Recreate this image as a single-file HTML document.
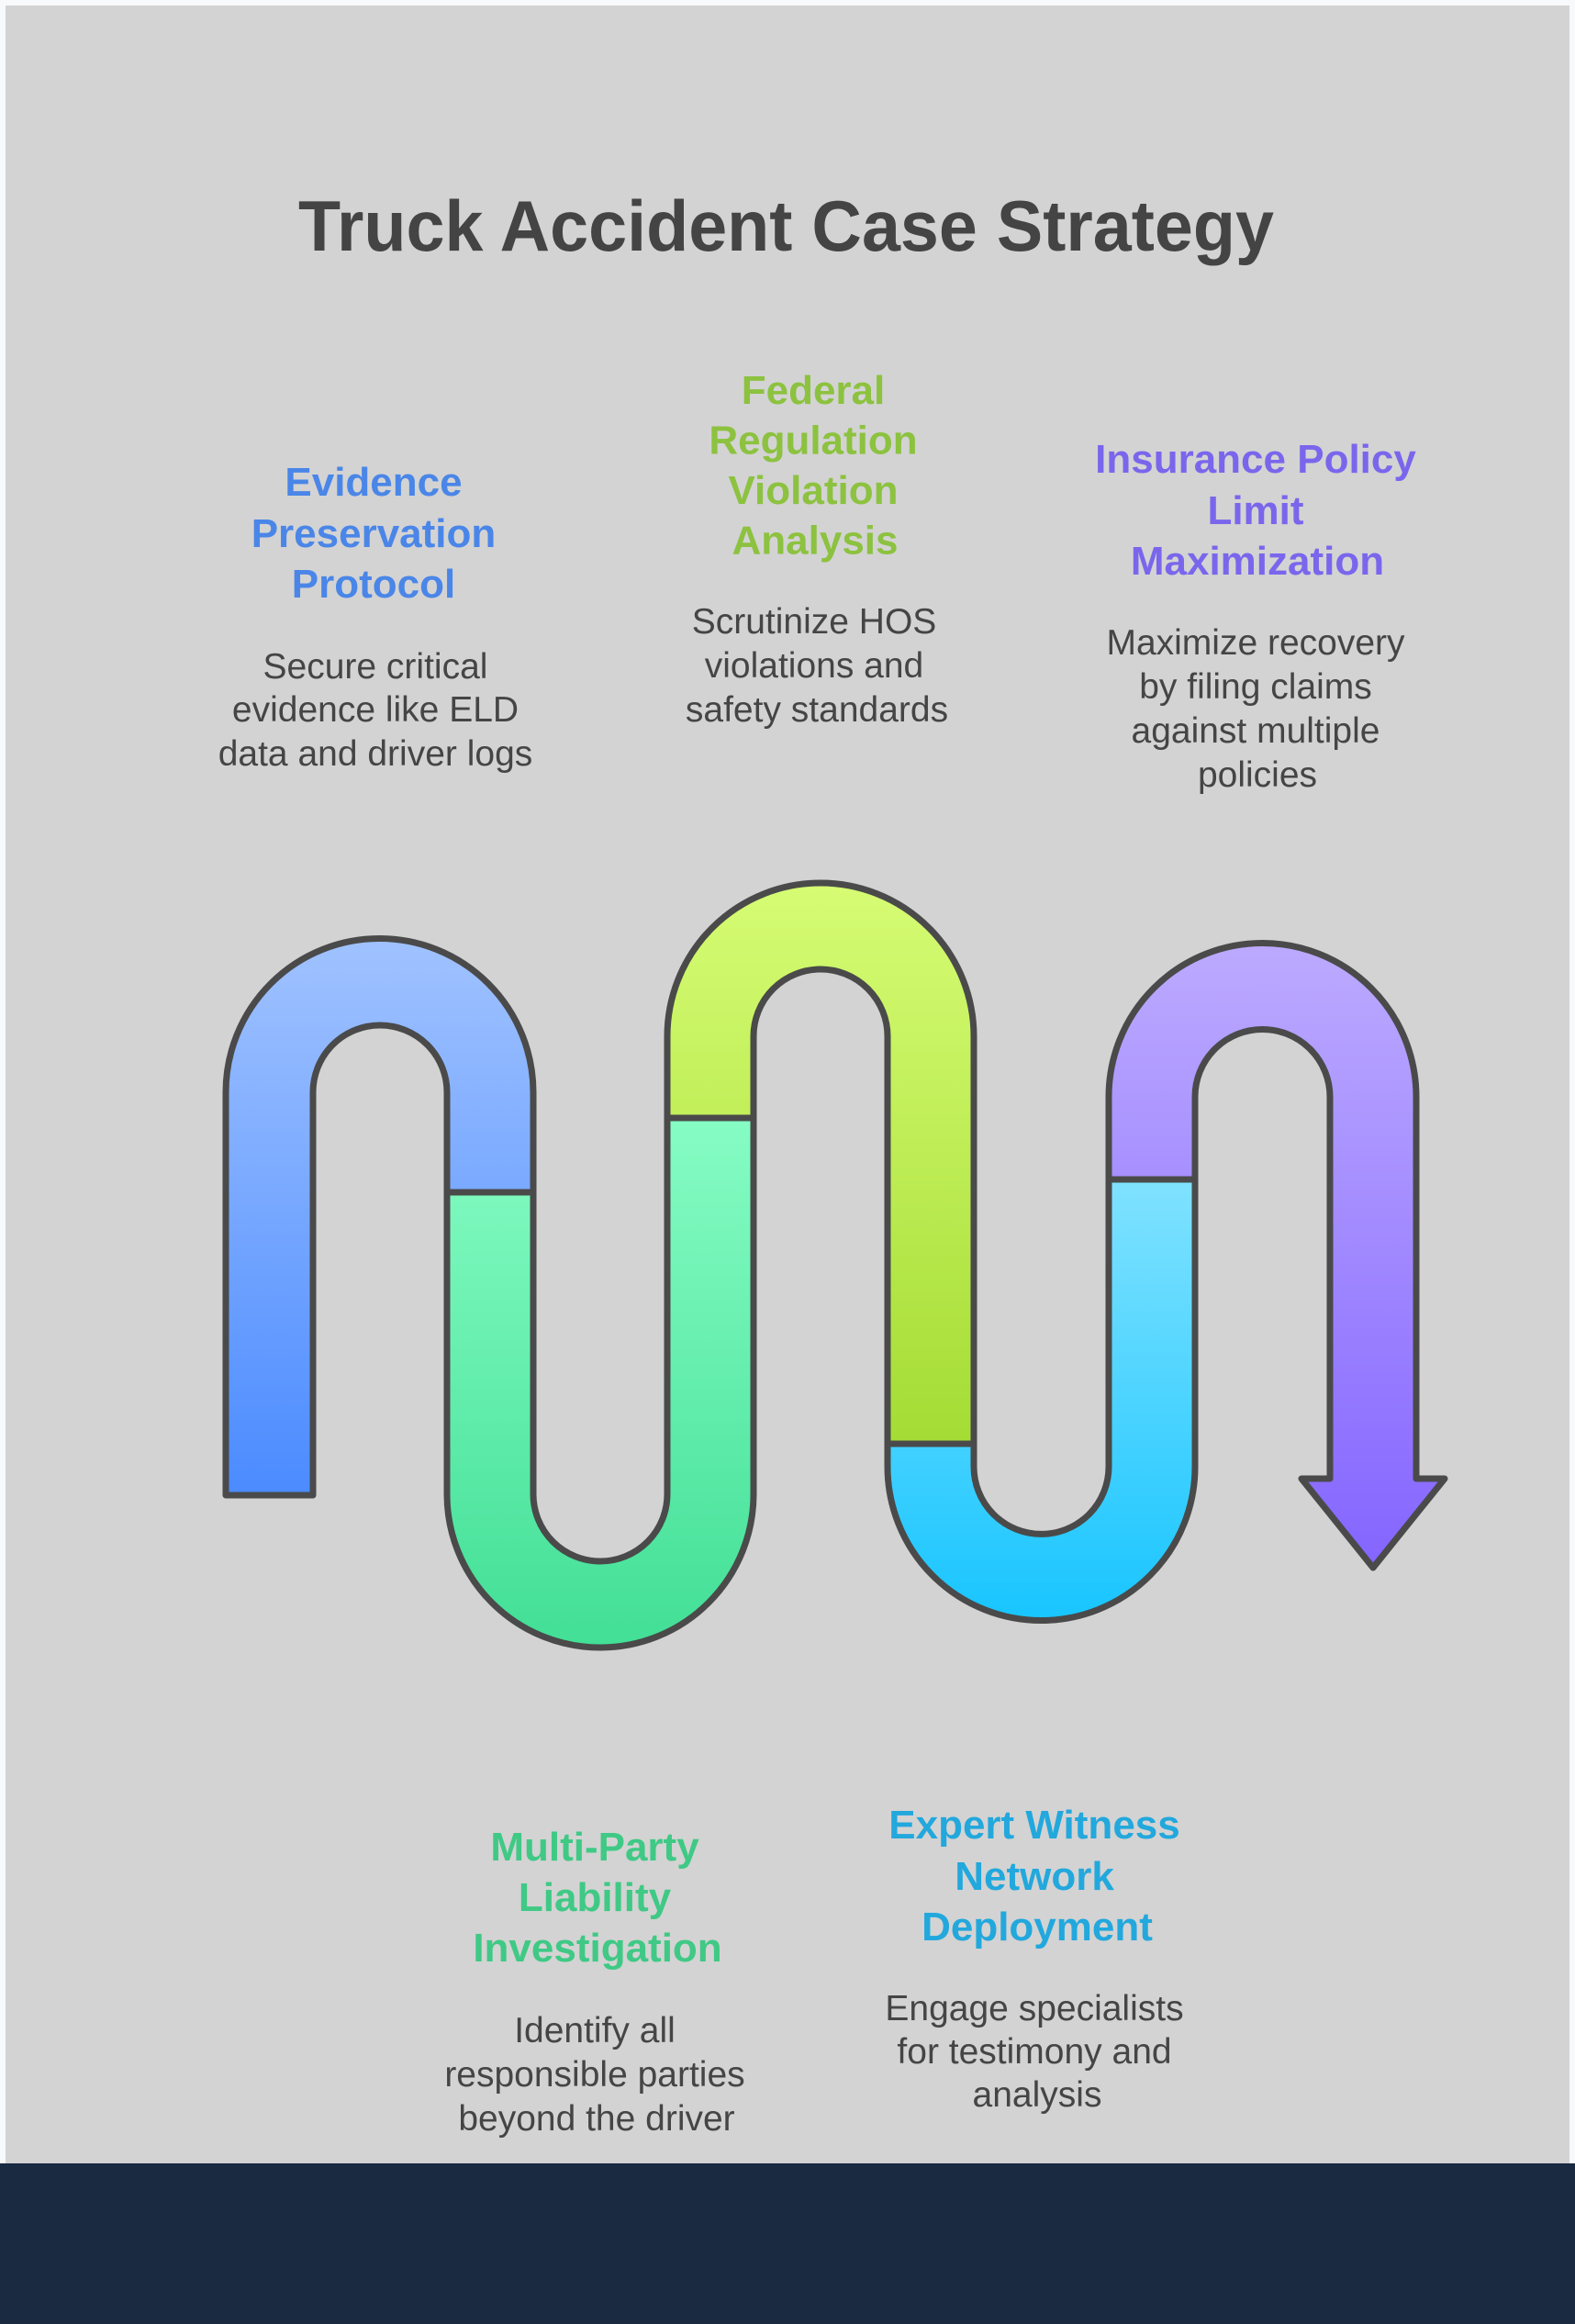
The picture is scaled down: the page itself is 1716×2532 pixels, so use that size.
<!DOCTYPE html>
<html>
<head>
<meta charset="utf-8">
<style>
  html, body { margin: 0; padding: 0; background: #f8f9fa; }
  body { width: 1716px; height: 2532px; overflow: hidden; }
  svg { display: block; }
  .t { font-family: "Liberation Sans", Arial, sans-serif; }
  .h { font-family: "Liberation Sans", Arial, sans-serif; font-weight: bold; font-size: 44px; }
  .d { font-family: "Liberation Sans", Arial, sans-serif; font-size: 39px; fill: #454545; }
</style>
</head>
<body>
<svg width="1716" height="2532" viewBox="0 0 1716 2532" xmlns="http://www.w3.org/2000/svg">
  <defs>
    <linearGradient id="gBlue" gradientUnits="userSpaceOnUse" x1="0" y1="1023" x2="0" y2="1629">
      <stop offset="0" stop-color="#a0c2ff"/>
      <stop offset="1" stop-color="#4b8bff"/>
    </linearGradient>
    <linearGradient id="gGreen" gradientUnits="userSpaceOnUse" x1="0" y1="1218" x2="0" y2="1796">
      <stop offset="0" stop-color="#86fcc4"/>
      <stop offset="1" stop-color="#42df96"/>
    </linearGradient>
    <linearGradient id="gYellow" gradientUnits="userSpaceOnUse" x1="0" y1="961" x2="0" y2="1573">
      <stop offset="0" stop-color="#d6fc74"/>
      <stop offset="1" stop-color="#a4dc34"/>
    </linearGradient>
    <linearGradient id="gCyan" gradientUnits="userSpaceOnUse" x1="0" y1="1285" x2="0" y2="1766">
      <stop offset="0" stop-color="#80e2ff"/>
      <stop offset="1" stop-color="#18c5ff"/>
    </linearGradient>
    <linearGradient id="gPurple" gradientUnits="userSpaceOnUse" x1="0" y1="1027" x2="0" y2="1708">
      <stop offset="0" stop-color="#bcaaff"/>
      <stop offset="1" stop-color="#8465ff"/>
    </linearGradient>
  </defs>

  <!-- backgrounds -->
  <rect x="0" y="0" width="1716" height="2532" fill="#f8f9fa"/>
  <rect x="6" y="6" width="1704" height="2351" fill="#d3d3d3"/>
  <rect x="0" y="2357" width="1716" height="175" fill="#192a41"/>

  <!-- title -->
  <text class="t" x="856.5" y="273" text-anchor="middle" font-size="78" font-weight="bold" fill="#444444" textLength="1063" lengthAdjust="spacingAndGlyphs">Truck Accident Case Strategy</text>

  <!-- wave segments -->
  <g stroke="#4a4a4a" stroke-width="7" stroke-linejoin="round">
    <path fill="url(#gBlue)" d="M 246 1629 L 246 1190 A 167.5 167.5 0 0 1 581 1190 L 581 1299 L 487 1299 L 487 1190 A 73 73 0 0 0 341 1190 L 341 1629 Z"/>
    <path fill="url(#gGreen)" d="M 487 1299 L 581 1299 L 581 1628 A 73 73 0 0 0 727 1628 L 727 1218 L 821 1218 L 821 1628 A 167 167 0 0 1 487 1628 Z"/>
    <path fill="url(#gYellow)" d="M 727 1218 L 727 1129 A 167 167 0 0 1 1061 1129 L 1061 1573 L 967 1573 L 967 1129 A 73 73 0 0 0 821 1129 L 821 1218 Z"/>
    <path fill="url(#gCyan)" d="M 967 1573 L 1061 1573 L 1061 1598 A 73.5 73.5 0 0 0 1208 1598 L 1208 1285 L 1302 1285 L 1302 1598 A 167.5 167.5 0 0 1 967 1598 Z"/>
    <path fill="url(#gPurple)" d="M 1208 1285 L 1208 1195 A 167.5 167.5 0 0 1 1543 1195 L 1543 1611 L 1574 1611 L 1496 1708 L 1418 1611 L 1449 1611 L 1449 1195 A 73.5 73.5 0 0 0 1302 1195 L 1302 1285 Z"/>
  </g>

  <!-- Evidence Preservation Protocol -->
  <g class="h" fill="#4a86e8" text-anchor="middle">
    <text x="407" y="540">Evidence</text>
    <text x="407" y="596">Preservation</text>
    <text x="407" y="651">Protocol</text>
  </g>
  <g class="d" text-anchor="middle">
    <text x="409" y="739">Secure critical</text>
    <text x="409" y="786">evidence like ELD</text>
    <text x="409" y="834">data and driver logs</text>
  </g>

  <!-- Federal Regulation Violation Analysis -->
  <g class="h" fill="#8cc23f" text-anchor="middle">
    <text x="886" y="440">Federal</text>
    <text x="886" y="494.5">Regulation</text>
    <text x="886" y="549">Violation</text>
    <text x="888" y="603.5">Analysis</text>
  </g>
  <g class="d" text-anchor="middle">
    <text x="887" y="690">Scrutinize HOS</text>
    <text x="887" y="738">violations and</text>
    <text x="890" y="786">safety standards</text>
  </g>

  <!-- Insurance Policy Limit Maximization -->
  <g class="h" fill="#7a66ec" text-anchor="middle">
    <text x="1368" y="515">Insurance Policy</text>
    <text x="1368" y="571">Limit</text>
    <text x="1370" y="626">Maximization</text>
  </g>
  <g class="d" text-anchor="middle">
    <text x="1368" y="713">Maximize recovery</text>
    <text x="1368" y="761">by filing claims</text>
    <text x="1368" y="809">against multiple</text>
    <text x="1370" y="857">policies</text>
  </g>

  <!-- Multi-Party Liability Investigation -->
  <g class="h" fill="#3fc985" text-anchor="middle">
    <text x="648" y="2027">Multi-Party</text>
    <text x="648" y="2082">Liability</text>
    <text x="651" y="2137">Investigation</text>
  </g>
  <g class="d" text-anchor="middle">
    <text x="648" y="2225">Identify all</text>
    <text x="648" y="2273">responsible parties</text>
    <text x="650" y="2321">beyond the driver</text>
  </g>

  <!-- Expert Witness Network Deployment -->
  <g class="h" fill="#22a8dd" text-anchor="middle">
    <text x="1127" y="2003">Expert Witness</text>
    <text x="1127" y="2059">Network</text>
    <text x="1130" y="2114">Deployment</text>
  </g>
  <g class="d" text-anchor="middle">
    <text x="1127" y="2201">Engage specialists</text>
    <text x="1127" y="2248">for testimony and</text>
    <text x="1130" y="2295">analysis</text>
  </g>
</svg>
</body>
</html>
